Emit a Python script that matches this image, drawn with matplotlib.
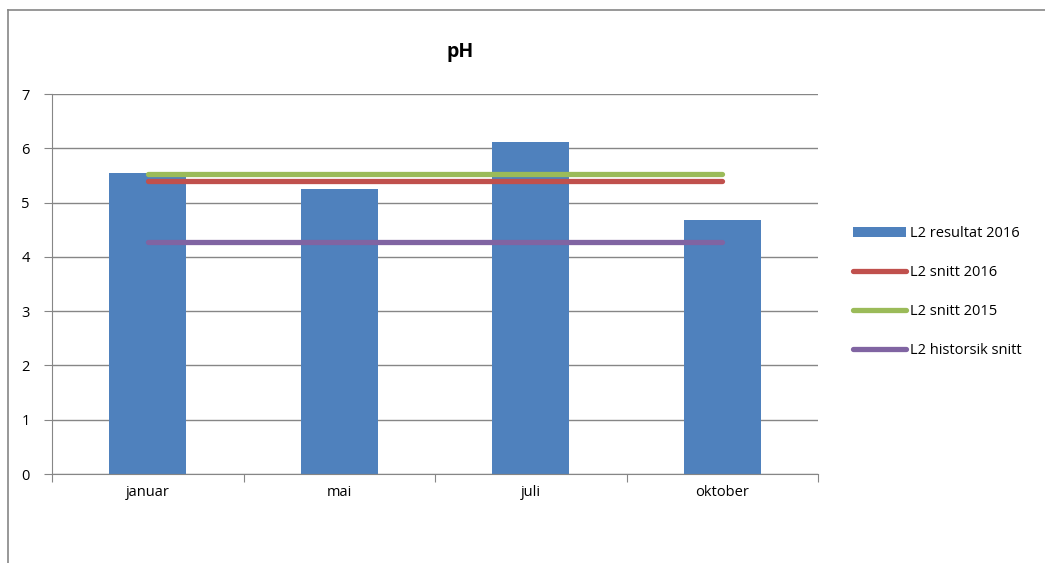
import matplotlib.pyplot as plt
from matplotlib.lines import Line2D

months = ["januar", "mai", "juli", "oktober"]
resultat_2016 = [5.55, 5.25, 6.11, 4.67]
snitt_2016 = [5.40, 5.40, 5.40, 5.40]
snitt_2015 = [5.53, 5.53, 5.53, 5.53]
historisk_snitt = [4.27, 4.27, 4.27, 4.27]

plt.rcParams['font.family'] = ['Open Sans', 'DejaVu Sans']

fig = plt.figure(figsize=(10.45, 5.63), dpi=100)
ax = fig.add_axes([52 / 1045, 89 / 563, 766 / 1045, 380 / 563])

x = list(range(len(months)))
bars = ax.bar(x, resultat_2016, width=0.4, color="#4f81bd", label="L2 resultat 2016", zorder=2)
l1, = ax.plot(x, snitt_2016, color="#c0504d", lw=3.8, solid_capstyle="round", label="L2 snitt 2016", zorder=3)
l2, = ax.plot(x, snitt_2015, color="#9bbb59", lw=3.8, solid_capstyle="round", label="L2 snitt 2015", zorder=3)
l3, = ax.plot(x, historisk_snitt, color="#8064a2", lw=3.8, solid_capstyle="round", label="L2 historsik snitt", zorder=3)

ax.set_xlim(-0.5, len(months) - 0.5)
ax.set_ylim(0, 7)
ax.set_yticks(range(0, 8))
ax.yaxis.grid(True, color="#868686", lw=1)
ax.set_axisbelow(True)

# category boundaries carry the tick marks, labels sit in the middle
ax.set_xticks([i - 0.5 for i in range(len(months) + 1)])
ax.set_xticklabels([])
ax.set_xticks(x, minor=True)
ax.set_xticklabels(months, minor=True)
ax.tick_params(axis="x", which="minor", length=0, pad=8, labelsize=10.5)
ax.tick_params(axis="x", which="major", length=6, color="#868686")
ax.tick_params(axis="y", length=6, color="#868686", labelsize=10.5, pad=10)

for side in ["top", "right"]:
    ax.spines[side].set_visible(False)
for side in ["left", "bottom"]:
    ax.spines[side].set_color("#868686")

fig.text(460 / 1045, 1 - 52 / 563, "pH", ha="center", va="center", fontsize=14, fontweight="bold")

ax.legend(handles=[bars, l1, l2, l3], loc="upper left", bbox_to_anchor=(840 / 1045, 1 - 213 / 563),
          bbox_transform=fig.transFigure, frameon=False, fontsize=10.5, labelspacing=1.65,
          handlelength=3.6, handletextpad=0.3)

# outer chart frame
fig.add_artist(Line2D([8 / 1045, 1], [1 - 10 / 563, 1 - 10 / 563], transform=fig.transFigure, color="#868686", lw=1.2))
fig.add_artist(Line2D([8 / 1045, 8 / 1045], [0, 1 - 10 / 563], transform=fig.transFigure, color="#868686", lw=1.2))

fig.savefig("out.png", dpi=100)
